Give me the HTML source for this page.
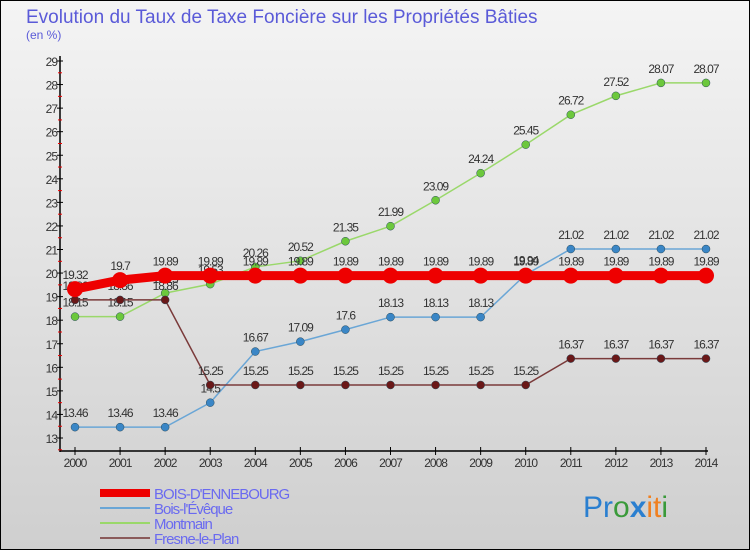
<!DOCTYPE html>
<html><head><meta charset="utf-8"><style>
body{margin:0;width:750px;height:550px;overflow:hidden;font-family:"Liberation Sans",sans-serif}
</style></head><body>
<svg id="chart" width="750" height="550" xmlns="http://www.w3.org/2000/svg" font-family="Liberation Sans, sans-serif">
<defs><linearGradient id="bg" x1="0" y1="0" x2="0" y2="1"><stop offset="0" stop-color="#f4f4f4"/><stop offset="1" stop-color="#cfcfcf"/></linearGradient></defs>
<rect x="0.5" y="0.5" width="749" height="549" fill="url(#bg)" stroke="#000"/>
<text x="26" y="23" font-size="19" fill="#5a5ad8">Evolution du Taux de Taxe Foncière sur les Propriétés Bâties</text>
<text x="26" y="39" font-size="12" fill="#5a5ad8">(en %)</text>
<g id="axes"></g><g id="series"></g><g id="legend"></g>
<text x="583" y="517" font-size="30"><tspan fill="#2a7fd0">Pr</tspan><tspan fill="#3a9a3a">o</tspan><tspan fill="#2a7fd0" font-weight="bold">x</tspan><tspan fill="#f08020">it</tspan><tspan fill="#3a9a3a">i</tspan></text>
</svg>
<script>
const years=[2000,2001,2002,2003,2004,2005,2006,2007,2008,2009,2010,2011,2012,2013,2014];
const yTicks=[13,14,15,16,17,18,19,20,21,22,23,24,25,26,27,28,29];
const boisDEnnebourg=[19.32,19.7,19.89,19.89,19.89,19.89,19.89,19.89,19.89,19.89,19.89,19.89,19.89,19.89,19.89];
const boisLEveque=[13.46,13.46,13.46,14.5,16.67,17.09,17.6,18.13,18.13,18.13,19.94,21.02,21.02,21.02,21.02];
const montmain=[18.15,18.15,19.15,19.53,20.26,20.52,21.35,21.99,23.09,24.24,25.45,26.72,27.52,28.07,28.07];
const fresneLePlan=[18.86,18.86,18.86,15.25,15.25,15.25,15.25,15.25,15.25,15.25,15.25,16.37,16.37,16.37,16.37];
const seriesNames=["BOIS-D'ENNEBOURG","Bois-l'Évêque","Montmain","Fresne-le-Plan"];
const NS="http://www.w3.org/2000/svg";
const xS=i=>75+i*(706-75)/14;
const yS=v=>438-(v-13)*(438-61)/16;
function mk(tag,attrs,parent,txt){const e=document.createElementNS(NS,tag);for(const k in attrs)e.setAttribute(k,attrs[k]);if(txt!==undefined)e.textContent=txt;parent.appendChild(e);return e;}
const ax=document.getElementById('axes');
let e=mk('line',{x1:60,y1:56,x2:60,y2:452,stroke:'#000','stroke-width':1.5},ax);

e=mk('line',{x1:60,y1:451,x2:708,y2:451,stroke:'#000','stroke-width':1.5},ax);

yTicks.forEach(t=>{const y=yS(t);
 mk('line',{x1:57,y1:y,x2:63,y2:y,stroke:'#000'},ax);
 mk('line',{x1:58,y1:y+11.8,x2:62,y2:y+11.8,stroke:'#e00'},ax);
 e=mk('text',{x:57,y:y+5,'font-size':12,'text-anchor':'end',fill:'#333','letter-spacing':'-1'},ax,t);
 });
years.forEach((yr,i)=>{const x=xS(i);
 mk('line',{x1:x,y1:447,x2:x,y2:455,stroke:'#000'},ax);
 e=mk('text',{x:x,y:467,'font-size':12,'text-anchor':'middle',fill:'#333','letter-spacing':'-1'},ax,yr);
 });
const sg=document.getElementById('series');
const defs=[[boisLEveque,'#6aa6d6','#3a86c6',1.5,4,'bois-l-eveque'],[montmain,'#9ad86a','#6cc83c',1.5,4,'montmain'],[fresneLePlan,'#7a3a3a','#6a1818',1.5,4,'fresne-le-plan'],[boisDEnnebourg,'#ee0000','#ee0000',9,8,'bois-d-ennebourg']];
defs.forEach(([vals,lc,pc,w,r,nm])=>{
 const g=mk('g',{},sg);
 e=mk('polyline',{points:vals.map((v,i)=>xS(i)+','+yS(v)).join(' '),fill:'none',stroke:lc,'stroke-width':w},g);
 
 vals.forEach((v,i)=>{e=mk('circle',{cx:xS(i),cy:yS(v),r:r,fill:pc,stroke:r<5?'#2a4a5a':'none','stroke-width':0.5},g);
  
  e=mk('text',{x:xS(i),y:yS(v)-10,'font-size':12,'text-anchor':'middle',fill:'#333','letter-spacing':'-1'},g,String(v));
  });
});
const lg=document.getElementById('legend');
const lcols=['#ee0000','#6aa6d6','#9ad86a','#8a5a5a'];const lw=[8,2,2,2];
seriesNames.forEach((n,i)=>{const y=493+i*15;
 const g=mk('g',{},lg);
 mk('line',{x1:100,y1:y,x2:150,y2:y,stroke:lcols[i],'stroke-width':lw[i]},g);
 mk('text',{x:154,y:y+6,'font-size':15,fill:'#6a6af0','letter-spacing':'-1'},g,n);});
</script>
</body></html>
